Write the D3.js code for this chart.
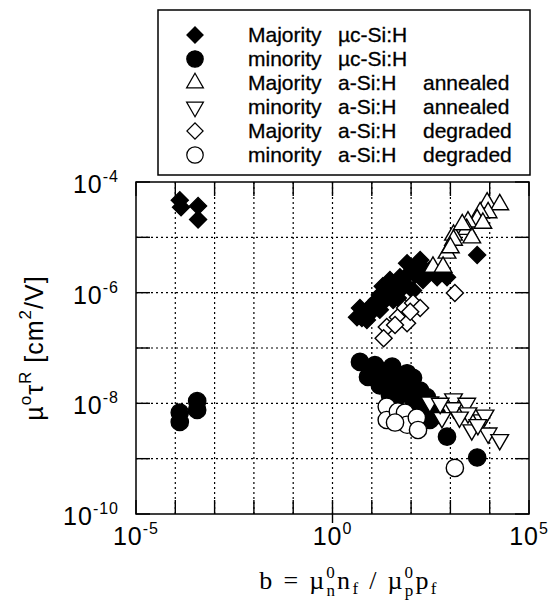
<!DOCTYPE html>
<html lang="en">
<head>
<meta charset="UTF-8">
<title>mu-tau product vs b</title>
<script src="https://d3js.org/d3.v7.min.js"></script>
<style>
    body { margin: 0; background: #fff; }
    svg { display: block; font-family: "Liberation Sans", Arial, sans-serif; }
</style>
</head>
<body>
<svg width="550" height="601"></svg>
<script>
// b values (x) and mu0*tauR values (y)
const majMucB  = [1.3e-4, 1.4e-4, 3.8e-4, 3.8e-4,
    4.2, 5.0, 5.6, 6.8, 7.5, 8.0, 9.0, 10, 12, 13.5, 16, 16, 19, 22, 24.5, 29, 33, 35, 44, 46, 52, 52, 62,
    70, 79, 94, 112, 112, 126, 150, 170, 200, 225, 300, 460, 650, 820, 4800];
const majMucMt = [4.7e-5, 3.5e-5, 3.7e-5, 2.1e-5,
    3.6e-7, 5.3e-7, 3.5e-7, 4.0e-7, 3.2e-7, 4.9e-7, 5.5e-7, 4.5e-7, 6.0e-7, 7.4e-7, 9.1e-7, 4.9e-7, 1.3e-6, 7.4e-7, 9.9e-7, 1.7e-6, 1.1e-6, 7.4e-7, 1.3e-6, 8.0e-7, 1.9e-6, 1.1e-6, 1.55e-6,
    1.4e-6, 3.4e-6, 2.35e-6, 2.6e-6, 1.1e-6, 2.1e-6, 3.2e-6, 3.9e-6, 1.7e-6, 2.6e-6, 2.6e-6, 1.9e-6, 2.3e-6, 1.9e-6, 4.8e-6];

const minMucB  = [1.3e-4, 1.3e-4, 3.6e-4, 3.6e-4,
    5.0, 8.0, 10, 12, 16, 16, 19, 24, 29, 33, 39, 44, 52, 70, 70, 79, 112, 112, 126, 170, 170,
    225, 250, 300, 360, 460, 820, 4800];
const minMucMt = [6.8e-9, 4.6e-9, 1.1e-8, 7.6e-9,
    5.6e-8, 3.0e-8, 4.4e-8, 4.9e-8, 3.5e-8, 2.1e-8, 3.7e-8, 2.3e-8, 1.4e-8, 4.6e-8, 2.9e-8, 1.3e-8, 2.3e-8, 1.7e-8, 2.1e-8, 3.5e-8, 2.9e-8, 1.2e-8, 1.6e-8, 1.7e-8, 9.3e-9,
    7.6e-9, 1.3e-8, 5.0e-9, 8.7e-9, 6.2e-9, 2.5e-9, 1.05e-9];

const majAnnB  = [8600, 18000, 9100, 5700, 4800, 2800, 2600, 1200, 1200, 3500, 820, 360, 650, 6700, 2000, 1000];
const majAnnMt = [4.2e-5, 3.9e-5, 2.8e-5, 2.8e-5, 2.1e-5, 1.9e-5, 1.4e-5, 1.1e-5, 8.9e-6, 9.8e-6, 5.2e-6, 2.9e-6, 2.9e-6, 1.8e-5, 1.7e-5, 6.5e-6];

const minAnnB  = [300, 1200, 610, 1200, 2600, 2800, 3500, 6400, 7600, 9100, 18000, 1700, 5000, 550];
const minAnnMt = [1.05e-8, 1.2e-8, 5.5e-9, 8.3e-9, 1.0e-8, 6.7e-9, 3.3e-9, 5.0e-9, 6.1e-9, 2.9e-9, 2.2e-9, 5.6e-9, 4.1e-9, 1.0e-8];

const majDegB  = [24, 20, 46, 70, 112, 170, 79, 39, 1300, 95];
const majDegMt = [2.4e-7, 1.5e-7, 3.6e-7, 5.3e-7, 6.5e-7, 5.3e-7, 2.8e-7, 2.6e-7, 9.9e-7, 4.5e-7];

const minDegB  = [24, 24, 46, 70, 79, 140, 150, 39, 1300];
const minDegMt = [8.7e-9, 5.0e-9, 7.1e-9, 6.8e-9, 4.1e-9, 5.5e-9, 3.3e-9, 4.5e-9, 6.8e-10];

const xTickExp = [-5, 0, 5];
const yTickExp = [-10, -8, -6, -4];

const legendRows = [
    ["Majority", "\u00b5c-Si:H", ""],
    ["minority", "\u00b5c-Si:H", ""],
    ["Majority", "a-Si:H", "annealed"],
    ["minority", "a-Si:H", "annealed"],
    ["Majority", "a-Si:H", "degraded"],
    ["minority", "a-Si:H", "degraded"]
];

const svg = d3.select("svg");
const pL = 136, pR = 529, pT = 182, pB = 514;

const x = d3.scaleLog().domain([1e-5, 1e5]).range([pL, pR]);
const y = d3.scaleLog().domain([1e-10, 1e-4]).range([pB, pT]);

const decadesX = d3.range(-5, 6).map(e => Math.pow(10, e));
const decadesY = d3.range(-10, -3).map(e => Math.pow(10, e));

// dotted grid
const grid = svg.append("g").attr("stroke", "#000").attr("stroke-width", 1.2).attr("stroke-dasharray", "2,3");
grid.selectAll(".gx").data(decadesX.slice(1, -1)).enter().append("line")
    .attr("x1", d => x(d)).attr("x2", d => x(d)).attr("y1", pT).attr("y2", pB);
grid.selectAll(".gy").data(decadesY.slice(1, -1)).enter().append("line")
    .attr("y1", d => y(d)).attr("y2", d => y(d)).attr("x1", pL).attr("x2", pR);

// inward ticks on all four sides
const tl = 14;
const ticks = svg.append("g").attr("stroke", "#000").attr("stroke-width", 1.4);
decadesX.forEach(d => {
    ticks.append("line").attr("x1", x(d)).attr("x2", x(d)).attr("y1", pB).attr("y2", pB - tl);
    ticks.append("line").attr("x1", x(d)).attr("x2", x(d)).attr("y1", pT).attr("y2", pT + tl);
});
decadesY.forEach(d => {
    ticks.append("line").attr("y1", y(d)).attr("y2", y(d)).attr("x1", pL).attr("x2", pL + tl);
    ticks.append("line").attr("y1", y(d)).attr("y2", y(d)).attr("x1", pR).attr("x2", pR - tl);
});
ticks.append("line").attr("x1", x(1)).attr("x2", x(1)).attr("y1", pB).attr("y2", pB + 9);

// frame
svg.append("rect").attr("x", pL).attr("y", pT).attr("width", pR - pL).attr("height", pB - pT)
    .attr("fill", "none").attr("stroke", "#000").attr("stroke-width", 1.5);

// tick labels
xTickExp.forEach(e => {
    const t = svg.append("text").attr("x", x(Math.pow(10, e))).attr("y", 545)
        .attr("text-anchor", "middle").attr("font-size", 25).attr("letter-spacing", 1);
    t.append("tspan").text("10");
    t.append("tspan").attr("font-size", 16).attr("dy", -11).text(e);
});
yTickExp.forEach(e => {
    const t = svg.append("text").attr("x", 119).attr("y", y(Math.pow(10, e)) + 11)
        .attr("text-anchor", "end").attr("font-size", 25).attr("letter-spacing", 1);
    t.append("tspan").text("10");
    t.append("tspan").attr("font-size", 16).attr("dy", -11).text(e);
});

// axis titles
const xt = svg.append("text").attr("x", 349).attr("y", 589).attr("text-anchor", "middle")
    .attr("font-family", "'Liberation Serif', 'Times New Roman', serif").attr("font-size", 26)
    .attr("letter-spacing", 2.3);
xt.append("tspan").text("b = \u00b5");
xt.append("tspan").attr("font-size", 17).attr("dy", 7).text("n");
xt.append("tspan").attr("font-size", 17).attr("dx", -11).attr("dy", -18).text("0");
xt.append("tspan").attr("dy", 11).text("n");
xt.append("tspan").attr("font-size", 17).attr("dy", 5).text("f");
xt.append("tspan").attr("dy", -5).text(" / \u00b5");
xt.append("tspan").attr("font-size", 17).attr("dy", 7).text("p");
xt.append("tspan").attr("font-size", 17).attr("dx", -11).attr("dy", -18).text("0");
xt.append("tspan").attr("dy", 11).text("p");
xt.append("tspan").attr("font-size", 17).attr("dy", 5).text("f");

const yt = svg.append("text").attr("transform", "translate(43," + ((pT + pB) / 2) + ") rotate(-90)")
    .attr("text-anchor", "middle").attr("font-size", 25).attr("letter-spacing", 1);
yt.append("tspan").text("\u00b5");
yt.append("tspan").attr("font-size", 17).attr("dy", -12).text("o");
yt.append("tspan").attr("dy", 12).text("\u03c4");
yt.append("tspan").attr("font-size", 17).attr("dy", -12).text("R");
yt.append("tspan").attr("dy", 12).text(" [cm");
yt.append("tspan").attr("font-size", 17).attr("dy", -12).text("2");
yt.append("tspan").attr("dy", 12).text("/V]");

// marker shapes
const diamond = d3.symbol().type(d3.symbolSquare).size(145)();
const circle = d3.symbol().type(d3.symbolCircle).size(235)();
const tri = d3.symbol().type(d3.symbolTriangle).size(135)();

const series = [
    { b: majMucB, mt: majMucMt, path: diamond, rot: 45, fill: "#000" },
    { b: minMucB, mt: minMucMt, path: circle, rot: 0, fill: "#000" },
    { b: majAnnB, mt: majAnnMt, path: tri, rot: 0, fill: "#fff" },
    { b: minAnnB, mt: minAnnMt, path: tri, rot: 180, fill: "#fff" },
    { b: majDegB, mt: majDegMt, path: diamond, rot: 45, fill: "#fff" },
    { b: minDegB, mt: minDegMt, path: circle, rot: 0, fill: "#fff" }
];

series.forEach(s => {
    const pts = s.b.map((b, i) => [b, s.mt[i]]);
    svg.append("g").selectAll("path").data(pts).enter().append("path")
        .attr("d", s.path)
        .attr("transform", d => "translate(" + x(d[0]) + "," + y(d[1]) + ") rotate(" + s.rot + ")")
        .attr("fill", s.fill).attr("stroke", "#000").attr("stroke-width", 1.4);
});

// legend
const lg = svg.append("g");
lg.append("rect").attr("x", 158).attr("y", 10).attr("width", 372).attr("height", 165)
    .attr("fill", "#fff").attr("stroke", "#000").attr("stroke-width", 1.5);
legendRows.forEach((r, i) => {
    const s = series[i];
    const cy = 35 + i * 24;
    lg.append("path").attr("d", s.path)
        .attr("transform", "translate(195," + cy + ") rotate(" + s.rot + ") scale(0.95)")
        .attr("fill", s.fill).attr("stroke", "#000").attr("stroke-width", 1.3);
    const cols = [248, 338, 423];
    r.forEach((txt, j) => {
        lg.append("text").attr("x", cols[j]).attr("y", cy + 7).attr("font-size", 21)
            .attr("stroke", "#000").attr("stroke-width", 0.3).text(txt);
    });
});
</script>
</body>
</html>
